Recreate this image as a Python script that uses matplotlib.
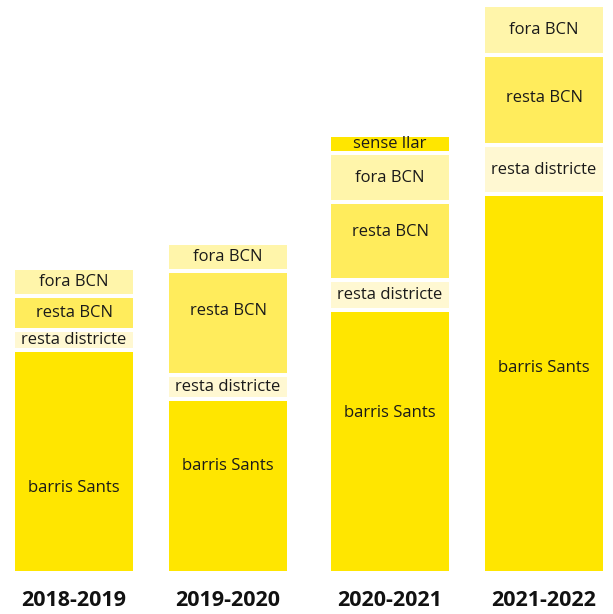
import matplotlib
matplotlib.use("Agg")
import matplotlib.pyplot as plt
import numpy as np

plt.rcParams['font.family'] = ['Open Sans', 'DejaVu Sans']

years = ["2018-2019", "2019-2020", "2020-2021", "2021-2022"]
segments = ["barris Sants", "resta districte", "resta BCN", "fora BCN", "sense llar"]
barris_sants = [219, 170, 259, 375]
resta_districte = [20, 24, 30, 49]
resta_bcn = [34, 104, 78, 90]
fora_bcn = [28, 28, 49, 50]
sense_llar = [0, 0, 18, 0]

series = [barris_sants, resta_districte, resta_bcn, fora_bcn, sense_llar]
colors = ["#FFE600", "#FFF8D2", "#FFEC5C", "#FFF5AA", "#FFE600"]

# layout: bar centres in pixels, label vertical position within segments
bar_centers = [74, 228, 390, 544]
label_frac = {
    0: [0.38, 0.62, 0.61, 0.54],
    2: [0.5, 0.62, 0.62, 0.52],
}

GAP = 4
W, H = 613, 614
fig = plt.figure(figsize=(W / 100, H / 100), dpi=100)
base_px = 571
ax = fig.add_axes([0, (H - base_px) / H, 1, base_px / H])
ax.set_ylim(0, base_px)
ax.set_xlim(0, W)
ax.axis("off")

width = 118
cum = np.zeros(len(years))
for si, (name, vals, col) in enumerate(zip(segments, series, colors)):
    vals = np.array(vals, dtype=float)
    for i in range(len(years)):
        v = vals[i]
        if v <= 0:
            continue
        gap = 0 if si == 0 else GAP
        bottom = cum[i] + gap
        height = v - gap
        ax.bar(bar_centers[i], height, bottom=bottom, width=width, color=col, linewidth=0)
        frac = label_frac.get(si, [0.5] * len(years))[i]
        ax.text(bar_centers[i], bottom + height * frac, name, ha="center", va="center",
                fontsize=12, color="#1a1a1a")
    cum += vals

for i, y in enumerate(years):
    fig.text(bar_centers[i] / W, (H - 601) / H, y, ha="center", va="center",
             fontsize=15.5, fontweight="bold", color="#111111")

fig.savefig("out.png", dpi=100)
